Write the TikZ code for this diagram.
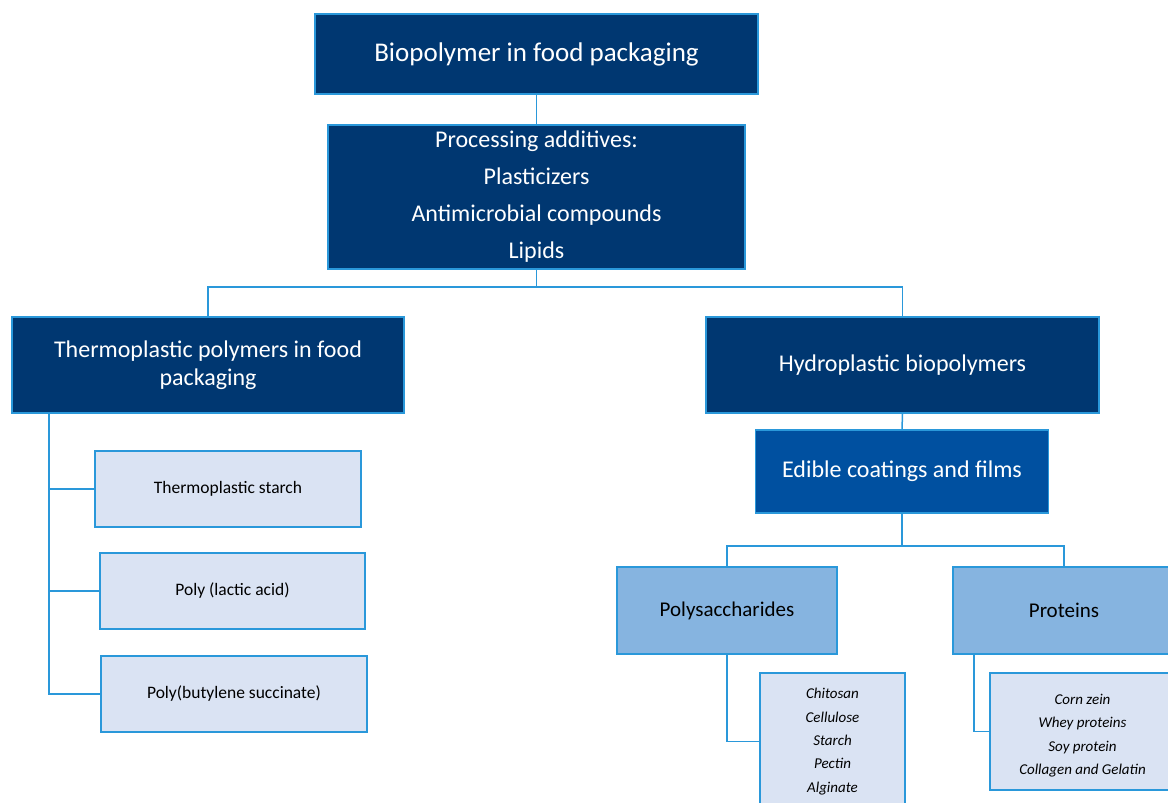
\documentclass[tikz,border=0pt]{standalone}
\usepackage{fontspec}
\setmainfont{Carlito}
\definecolor{navy}{RGB}{0,55,113}
\definecolor{midblue}{RGB}{0,80,160}
\definecolor{lightblue}{RGB}{134,180,224}
\definecolor{paleblue}{RGB}{218,227,243}
\definecolor{edge}{RGB}{42,152,218}
\tikzset{
  box/.style={draw=edge, line width=1.6pt, inner sep=0pt, align=center, rectangle},
  darkbox/.style={box, fill=navy, text=white},
  midbox/.style={box, fill=midblue, text=white},
  lightbox/.style={box, fill=lightblue, text=black},
  palebox/.style={box, fill=paleblue, text=black},
  conn/.style={draw=edge, line width=1.5pt}
}
\begin{document}
\begin{tikzpicture}[x=1pt,y=-1pt]
\clip (0,0) rectangle (1168,803);
\fill[white] (0,0) rectangle (1168,803);
% top
\node[darkbox, minimum width=443, minimum height=80, font=\fontsize{27}{32}\selectfont] (top) at (536.5,54) {Biopolymer in food packaging};
\node[darkbox, minimum width=417, minimum height=144, font=\fontsize{24}{37}\selectfont] (proc) at (536.5,197) {Processing additives:\\Plasticizers\\Antimicrobial compounds\\Lipids};
\node[darkbox, minimum width=392, minimum height=96, font=\fontsize{24}{28}\selectfont] (thermo) at (208,365) {Thermoplastic polymers in food\\packaging};
\node[darkbox, minimum width=393, minimum height=96, font=\fontsize{24}{28}\selectfont] (hydro) at (902.5,365) {Hydroplastic biopolymers};
\node[midbox, minimum width=293, minimum height=83, font=\fontsize{24}{28}\selectfont] (edible) at (902,471.5) {Edible coatings and films};
\node[lightbox, minimum width=220, minimum height=87, font=\fontsize{21}{25}\selectfont] (poly) at (727,610.5) {Polysaccharides};
\node[lightbox, minimum width=222, minimum height=87, font=\fontsize{21}{25}\selectfont] (prot) at (1064,610.5) {Proteins};
% thermo children
\node[palebox, minimum width=266, minimum height=76, font=\fontsize{17.5}{21}\selectfont] (ts) at (228,489) {Thermoplastic starch};
\node[palebox, minimum width=265, minimum height=76, font=\fontsize{17.5}{21}\selectfont] (pla) at (232.5,591) {Poly (lactic acid)};
\node[palebox, minimum width=266, minimum height=76, font=\fontsize{17.5}{21}\selectfont] (pbs) at (234,694) {Poly(butylene succinate)};
% leaves
\node[palebox, minimum width=145, minimum height=137, font=\fontsize{15}{23.3}\selectfont\itshape] (chit) at (832.5,741.5) {Chitosan\\Cellulose\\Starch\\Pectin\\Alginate};
\node[palebox, minimum width=185, minimum height=117, font=\fontsize{15}{23.5}\selectfont\itshape, text depth=0pt] (corn) at (1082.5,731.5) {\\[-8pt]Corn zein\\Whey proteins\\Soy protein\\Collagen and Gelatin};
% connectors
\draw[conn] (top.south) -- (proc.north);
\draw[conn] (proc.south) -- ++(0,17) coordinate (hub) -| (thermo.north);
\draw[conn] (hub) -| (hydro.north);
\draw[conn] (hydro.south) -- (edible.north);
\draw[conn] (edible.south) -- ++(0,32) coordinate (hub2) -| (poly.north);
\draw[conn] (hub2) -| (prot.north);
\draw[conn] ([xshift=38pt]thermo.south west) |- (ts.west);
\draw[conn] ([xshift=38pt]thermo.south west) |- (pla.west);
\draw[conn] ([xshift=38pt]thermo.south west) |- (pbs.west);
\draw[conn] (poly.south) |- (chit.west);
\draw[conn] ([xshift=22pt]prot.south west) |- (corn.west);
\end{tikzpicture}
\end{document}
